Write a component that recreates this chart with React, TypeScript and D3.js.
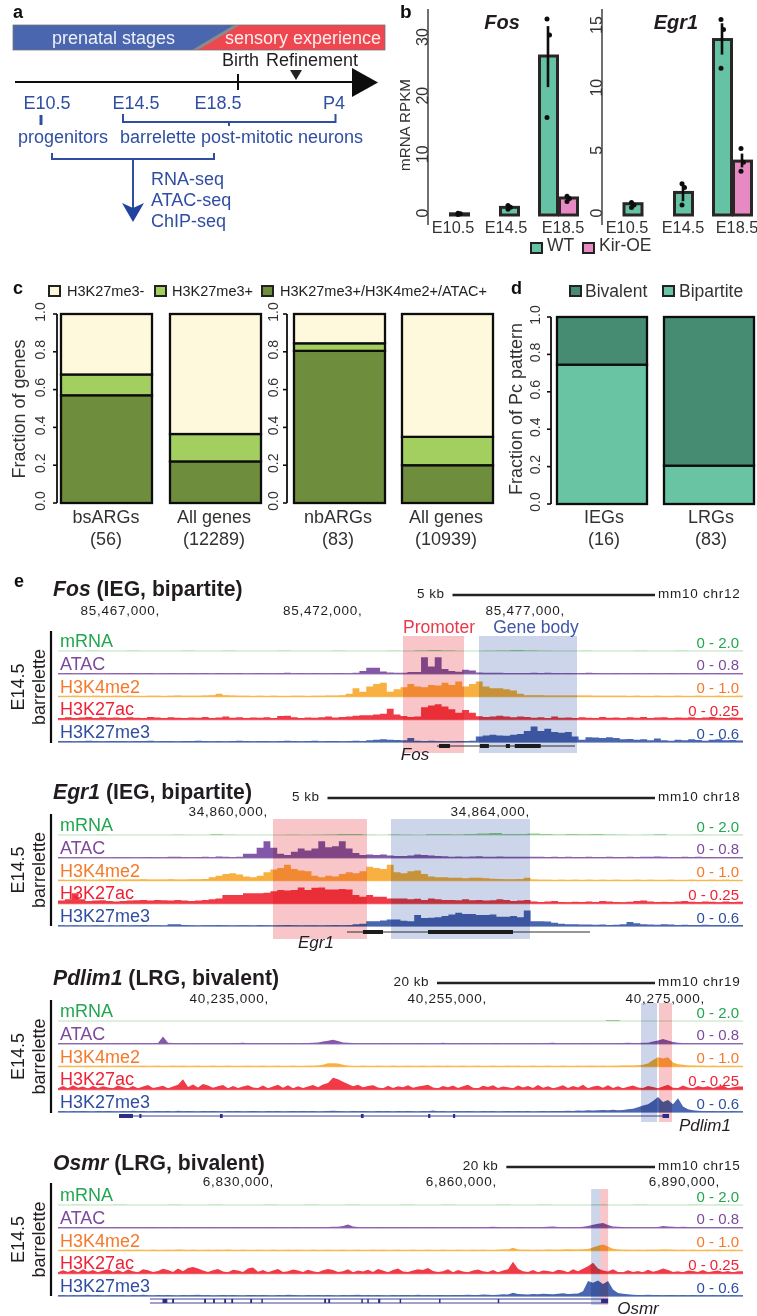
import React from "react";
import * as d3 from "d3";

const FONT = "'Liberation Sans', Arial, sans-serif";
const INK = "#231f20";
const BLUE_TEXT = "#2f4ea3";

// panel b
const stages = ["E10.5", "E14.5", "E18.5"];
const fosWt = [0.2, 1.3, 27.1];
const fosKir = [2.9];
const fosWtErr = [[0.1, 0.3], [1.0, 1.6], [21.8, 32.2]];
const fosKirErr = [[2.4, 3.2]];
const fosWtDots = [[0.1, 0.2, 0.3], [1.0, 1.3, 1.6], [16.6, 30.7, 33.4]];
const fosKirDots = [[2.3, 2.8, 3.2]];
const egrWt = [0.9, 1.8, 14.0];
const egrKir = [4.3];
const egrWtErr = [[0.6, 1.0], [1.1, 2.5], [12.8, 15.3]];
const egrKirErr = [[3.8, 4.9]];
const egrWtDots = [[0.6, 0.8, 1.0], [0.8, 2.2, 2.5], [11.7, 14.8, 15.6]];
const egrKirDots = [[3.5, 4.2, 5.3]];

// panel c
const cLegend = ["H3K27me3-", "H3K27me3+", "H3K27me3+/H3K4me2+/ATAC+"];
const cColors = ["#fef8dc", "#a2cf5e", "#6e8e3c"];
const cNamesLeft = ["bsARGs", "All genes"];
const cCountsLeft = ["(56)", "(12289)"];
const cTripleLeft = [0.57, 0.22];
const cPlusLeft = [0.68, 0.365];
const cNamesRight = ["nbARGs", "All genes"];
const cCountsRight = ["(83)", "(10939)"];
const cTripleRight = [0.805, 0.2];
const cPlusRight = [0.845, 0.35];
const fractionTicks = [0, 0.2, 0.4, 0.6, 0.8, 1];

// panel d
const dNames = ["IEGs", "LRGs"];
const dCounts = ["(16)", "(83)"];
const dBipartite = [0.745, 0.205];

// panel e
const trackNames = ["mRNA", "ATAC", "H3K4me2", "H3K27ac", "H3K27me3"];
const trackRanges = ["0 - 2.0", "0 - 0.8", "0 - 1.0", "0 - 0.25", "0 - 0.6"];
const trackText = ["#22a650", "#7d4a9e", "#f5792a", "#ee2435", "#2f4ea3"];
const trackFill = ["#8fce8f", "#8459a8", "#f8b040", "#f03a46", "#4a66b0"];
const baseWidth = [1.2, 1.3, 1.3, 2, 1.4];

const fosMrna = [0,0,1,0,0,1,0,0,0,1,0,0,1,0,0,0,1,0,0,0,1,0,0,0,1,0,2,5,2,0,0,1,2,5,2,1,0,0,1,0,0,0,1,0,0,1,0,0,0,1];
const fosAtac = [
  2,3,1,2,3,2,1,2,3,2, 3,2,2,3,1,2,3,2,2,3, 2,3,1,3,2,2,3,1,2,3, 2,2,3,4,2,3,2,3,2,2,
  3,3,2,4,12,27,27,10,6,4, 5,8,8,75,33,75,22,12,9,18, 15,6,5,4,4,3,3,3,3,4,
  3,4,3,2,3,2,3,4,3,2, 2,3,2,2,3,2,3,2,2,3, 2,3,2,2,3,2,3,2,2,2,
];
const fosK4 = [
  2,2,3,2,2,3,2,2,3,2, 3,2,2,3,3,2,3,4,3,3, 3,4,6,12,6,4,3,3,2,3, 2,3,2,2,3,3,2,3,3,4,
  5,6,12,38,22,45,57,63,22,33, 42,57,45,42,52,50,63,52,68,45, 57,68,45,38,38,33,27,12,6,6,
  6,5,5,5,5,4,4,4,3,3, 3,3,3,2,3,2,2,3,2,2, 3,2,2,3,2,2,3,2,2,3,
];
const fosAc = [
  6,9,6,8,10,6,9,7,8,6, 9,7,6,10,8,6,9,7,6,8, 7,10,6,8,12,7,9,6,8,7, 9,6,15,16,9,6,8,7,9,12,
  8,10,12,16,18,18,22,25,48,22, 15,10,12,55,62,68,58,45,30,42, 30,14,10,12,16,12,9,12,10,7,
  9,6,12,7,8,6,9,7,6,10, 7,8,6,9,7,10,6,8,9,6, 8,7,9,6,8,10,7,6,8,7,
];
const fosMe3 = [
  4,5,3,5,6,4,3,5,4,5, 3,5,4,6,3,5,4,3,5,4, 6,4,3,5,3,4,6,4,3,5, 4,3,5,6,4,3,4,6,3,4,
  5,3,4,6,5,8,10,12,10,9, 8,18,6,5,6,4,3,3,4,5, 6,25,30,33,30,28,33,36,50,70,
  50,60,45,42,45,25,10,22,20,18, 22,18,12,14,10,12,8,16,8,6, 10,8,12,9,6,10,12,8,9,7,
];

const egrMrna = [0,0,0,1,0,0,0,0,0,1,0,0,3,1,0,0,0,0,1,0,1,2,5,5,1,0,2,1,0,3,3,2,4,7,9,4,5,7,4,2,4,3,5,2,1,0,1,3,0,0,1,0,0,1];
const egrAtac = [
  2,1,2,2,1,2,1,1,2,2, 2,1,2,3,2,2,4,4,3,2, 3,4,2,6,5,3,4,18,18,45,
  75,45,18,12,27,42,33,42,75,48, 52,75,42,22,12,15,12,15,10,8,
  8,10,15,12,10,8,7,5,6,5, 6,7,5,4,6,5,4,5,4,5, 4,3,4,3,4,3,3,4,3,3,
  4,3,3,5,3,4,5,6,4,3, 3,4,3,4,3,3,2,3,3,2,
];
const egrK4 = [
  3,2,3,4,3,3,4,5,4,5, 4,5,6,5,5,5,6,5,5,6, 6,7,15,22,30,33,27,18,15,22,
  38,50,57,72,52,45,42,22,15,22, 18,30,38,33,42,63,57,52,72,38,
  33,42,45,30,18,15,15,12,12,10, 12,12,10,8,7,6,6,7,12,5,
  3,3,2,3,2,3,2,3,2,3, 2,3,2,2,3,2,3,2,2,3, 2,2,3,2,2,3,2,3,2,2,
];
const egrAc = [
  12,18,45,18,10,12,14,10,8,10, 12,14,15,12,15,14,12,15,12,10, 12,15,18,22,38,38,38,45,45,45,
  48,55,60,58,60,72,60,70,72,62, 62,65,62,38,30,38,30,30,22,22,
  22,18,20,15,22,18,15,15,14,18, 14,15,12,14,18,15,10,12,15,8,
  6,8,10,6,5,7,6,8,6,10, 8,6,5,7,10,12,8,6,7,6, 8,10,7,6,8,7,5,8,6,7,
];
const egrMe3 = [
  3,2,3,2,2,3,2,3,2,3, 2,3,4,3,3,2,8,8,4,3, 2,3,3,4,3,2,3,3,2,4, 3,2,3,4,3,2,3,3,2,3,
  4,3,5,8,10,22,22,25,30,30, 24,22,50,36,38,40,45,52,60,55, 55,50,50,52,42,42,45,40,70,22,
  22,20,15,10,8,8,7,7,6,7, 5,6,8,18,12,8,7,6,8,7, 5,6,4,5,6,4,5,4,5,4,
];

const pdlMrna = [0,0,0,0,0,0,0,0,0,0,0,0,0,0,0,0,0,0,0,0,0,0,0,0,0,0,0,0,0,0,0,0,0,0,0,0,0,0,0,0,5,0,0,0,0,0,0,0,0,0];
const pdlAtac = [
  2,3,2,2,3,2,3,2,2,3, 2,3,3,2,2,3,2,3,3,2, 3,33,5,3,2,3,2,3,3,2, 2,3,2,3,2,3,3,4,2,3,
  2,3,2,2,3,2,3,3,2,3, 3,4,6,10,14,18,12,6,4,3, 2,3,2,3,2,3,3,2,3,2, 3,2,3,3,2,3,2,4,2,3,
  2,3,3,2,3,2,2,3,3,2, 3,2,3,2,3,3,2,2,3,4, 2,3,2,3,2,3,3,2,3,2, 3,2,3,3,4,3,3,4,5,10,
  15,22,15,8,4,3,3,2,3,2, 3,2,3,2,3,2,2,
];
const pdlK4 = [
  2,2,3,2,2,2,3,2,2,3, 2,2,3,2,3,2,2,3,2,2, 3,2,2,3,2,3,2,2,3,2, 2,3,2,2,3,2,2,2,3,2,
  2,3,2,2,3,2,2,3,2,2, 3,3,4,8,15,15,14,8,3,2, 2,3,2,2,3,2,2,3,2,2, 3,2,2,3,2,2,3,2,3,2,
  2,3,2,2,3,2,2,3,2,2, 3,2,3,2,2,3,2,2,3,2, 2,3,2,2,3,2,3,3,2,3, 2,3,3,4,4,5,6,8,14,30,
  42,36,42,18,10,8,5,4,3,3, 2,3,2,2,3,2,2,
];
const pdlAc = [
  5,15,4,18,7,13,3,16,6,14, 8,4,17,9,5,15,4,12,19,6, 10,16,5,13,20,45,10,22,8,24, 17,7,14,19,5,15,6,12,18,8,
  6,17,4,13,20,7,18,5,14,6, 12,19,9,22,28,52,45,34,24,14, 20,9,15,18,8,5,16,6,14,9, 18,7,13,16,20,8,5,15,9,17,
  6,14,20,7,5,16,10,18,6,13, 9,5,17,8,15,6,19,7,14,5, 10,18,6,15,8,20,5,12,16,7, 18,6,14,5,11,17,8,6,15,10,
  5,13,20,7,6,17,8,5,15,9, 14,6,12,18,5,9,13,
];
const pdlMe3 = [
  3,4,2,5,3,4,3,2,4,3, 5,3,2,4,3,6,3,4,2,3, 5,3,4,2,6,3,4,3,2,5, 3,4,3,2,4,3,5,2,3,4,
  3,2,5,3,4,2,3,4,3,5, 3,4,2,3,5,6,4,3,2,4, 3,5,3,2,4,3,4,2,5,3, 4,3,2,4,3,7,3,4,2,3,
  5,3,4,3,2,4,3,5,2,3, 4,3,5,3,4,2,3,4,3,5, 5,4,6,5,7,6,8,7,8,9, 8,10,8,9,12,15,22,30,35,50,
  68,45,55,35,63,25,12,8,6,5, 4,5,3,4,3,4,3,
];

const osmMrna = [0,1,0,0,1,0,0,0,1,0,0,1,0,0,0,1,0,0,1,0,0,1,0,0,0,1,0,0,1,0,0,0,1,0,0,1,0,0,0,1,0,0,1,0,0,0,1,0,1,0];
const osmAtac = [
  3,2,3,2,3,3,2,3,2,3, 2,3,3,2,3,2,3,2,3,3, 2,3,2,3,3,2,3,2,3,2, 3,3,2,3,2,3,3,2,3,2,
  3,2,3,3,2,3,2,3,3,2, 3,2,3,2,3,4,5,8,15,6, 3,2,3,2,3,3,2,3,2,3, 3,2,3,2,3,3,2,3,2,3,
  2,3,3,2,3,2,3,4,3,2, 3,2,3,3,2,3,2,3,5,6, 3,2,3,3,2,4,8,14,18,22, 12,6,4,3,3,2,3,2,3,2,
  3,8,6,4,3,4,3,3,2,3, 2,3,3,2,3,2,2,
];
const osmK4 = [
  2,2,3,2,2,3,2,2,3,2, 2,3,2,2,3,2,3,2,2,3, 2,2,3,2,4,3,2,3,2,2, 3,2,3,2,4,2,2,3,2,2,
  3,2,2,3,2,2,3,2,3,2, 2,3,2,2,3,2,2,3,2,2, 3,2,2,3,2,3,2,2,3,2, 2,3,2,2,3,2,2,3,2,2,
  3,2,2,3,2,3,2,2,3,4, 5,12,4,3,3,2,3,2,4,3, 3,5,6,4,5,6,7,14,22,27, 18,8,4,3,3,2,3,2,3,3,
  3,5,4,3,2,3,2,3,2,2, 3,2,3,2,2,3,2,
];
const osmAc = [
  5,14,6,16,4,18,7,15,5,13, 19,6,15,4,17,9,5,18,14,6, 10,20,15,6,22,9,24,28,22,12, 6,14,19,8,5,16,13,6,22,26,
  7,15,5,12,19,6,9,17,13,6, 16,9,4,14,19,15,6,9,18,5, 13,8,16,6,19,12,5,15,22,8, 6,13,18,15,24,10,6,9,18,5,
  15,8,4,12,17,9,6,15,5,13, 18,52,20,9,6,15,5,13,10,6, 16,12,5,18,9,20,32,48,22,13, 8,18,6,5,14,6,10,5,16,7,
  12,22,15,6,9,5,13,10,6,15, 5,9,13,6,10,5,9,
];
const osmMe3 = [
  3,4,2,5,3,4,6,3,4,2, 3,5,3,4,2,4,3,6,3,2, 5,3,4,3,2,5,3,4,6,3, 4,2,3,5,3,4,3,2,4,5,
  3,4,3,2,5,3,6,4,3,2, 4,3,5,3,4,3,2,5,3,4, 6,3,4,3,5,3,2,4,3,5, 4,3,6,3,4,3,5,4,3,4,
  5,4,6,5,5,7,6,5,6,8, 7,15,9,8,7,9,8,10,9,8, 10,12,9,10,11,22,68,60,70,55, 68,30,14,10,8,6,5,4,6,4,
  5,3,4,5,3,4,3,4,3,4, 3,4,3,4,3,4,3,
];

type GenePanel = {
  title: string; rest: string; kb: string; chrom: string;
  ticks: number[]; tickPx: number[]; barKb: number; titleY: number; barY: number; tickY: number;
  firstBase: number; lineTop: number; lineBottom: number;
  promoter: number[]; body: number[]; shadeTop: number; shadeBottom: number;
  gene: number[]; exons: number[][]; geneY: number; geneColor: string; geneX: number; geneLabelY: number;
  tracks: number[][];
};

const fosTicks = [85467000, 85472000, 85477000];
const egrTicks = [34860000, 34864000];
const pdlTicks = [40235000, 40255000, 40275000];
const osmTicks = [6830000, 6860000, 6890000];

const fosExons = [[85473890, 85474160], [85474900, 85475120], [85475540, 85475640], [85475760, 85476400]];
const egrExons = [[34861450, 34861756], [34862443, 34863740]];
const pdlExons = [[40221240, 40222520], [40223100, 40223300], [40230500, 40230750], [40243430, 40243680], [40249600, 40249800], [40251880, 40252080], [40271100, 40271700]];
const osmExons = [[6815000, 6815650], [6816300, 6816550], [6820600, 6820850], [6821800, 6822050], [6823300, 6823550], [6824250, 6824500], [6826800, 6827050], [6828300, 6828500],
  [6836750, 6837000], [6837300, 6837550], [6841750, 6841950], [6842550, 6842750], [6844000, 6844300], [6846900, 6847100], [6852200, 6852400], [6860100, 6860300], [6874000, 6874950]];

const genePanels: GenePanel[] = [
  { title: "Fos", rest: " (IEG, bipartite)", kb: "5 kb", chrom: "mm10 chr12", ticks: fosTicks, tickPx: [160, 565], barKb: 5000,
    titleY: 588, barY: 595, tickY: 609, firstBase: 651, lineTop: 631, lineBottom: 743,
    promoter: [85473000, 85474506], body: [85474876, 85477296], shadeTop: 636, shadeBottom: 753,
    gene: [85473840, 85477247], exons: fosExons, geneY: 746, geneColor: "#1a1a1a", geneX: 415, geneLabelY: 754,
    tracks: [fosMrna, fosAtac, fosK4, fosAc, fosMe3] },
  { title: "Egr1", rest: " (IEG, bipartite)", kb: "5 kb", chrom: "mm10 chr18", ticks: egrTicks, tickPx: [268, 530], barKb: 5000,
    titleY: 791, barY: 798, tickY: 810, firstBase: 835, lineTop: 814, lineBottom: 926,
    promoter: [34860076, 34861511], body: [34861878, 34864000], shadeTop: 819, shadeBottom: 939,
    gene: [34861206, 34864916], exons: egrExons, geneY: 932, geneColor: "#1a1a1a", geneX: 316, geneLabelY: 942,
    tracks: [egrMrna, egrAtac, egrK4, egrAc, egrMe3] },
  { title: "Pdlim1", rest: " (LRG, bivalent)", kb: "20 kb", chrom: "mm10 chr19", ticks: pdlTicks, tickPx: [269, 705], barKb: 20000,
    titleY: 977, barY: 983, tickY: 997, firstBase: 1021, lineTop: 1000, lineBottom: 1113,
    promoter: [40270780, 40271970], body: [40269130, 40270600], shadeTop: 1003, shadeBottom: 1122,
    gene: [40221240, 40271700], exons: pdlExons, geneY: 1116, geneColor: "#2b2f8a", geneX: 705, geneLabelY: 1125,
    tracks: [pdlMrna, pdlAtac, pdlK4, pdlAc, pdlMe3] },
  { title: "Osmr", rest: " (LRG, bivalent)", kb: "20 kb", chrom: "mm10 chr15", ticks: osmTicks, tickPx: [274, 720], barKb: 20000,
    titleY: 1162, barY: 1167, tickY: 1180, firstBase: 1205, lineTop: 1183, lineBottom: 1296,
    promoter: [6873880, 6874950], body: [6872660, 6873880], shadeTop: 1189, shadeBottom: 1305,
    gene: [6813310, 6874950], exons: osmExons, geneY: 1301, geneColor: "#2b2f8a", geneX: 638, geneLabelY: 1308,
    tracks: [osmMrna, osmAtac, osmK4, osmAc, osmMe3] },
];

const Label = ({ x, y, children, size = 18, fill = INK, anchor = "start", weight = "normal", italic = false, rotate = false, spacing = 0 }: any) => (
  <text
    x={rotate ? 0 : x}
    y={rotate ? 0 : y}
    transform={rotate ? `translate(${x},${y}) rotate(-90)` : undefined}
    fontSize={size}
    fill={fill}
    textAnchor={anchor}
    fontWeight={weight}
    fontStyle={italic ? "italic" : "normal"}
    letterSpacing={spacing}
    dominantBaseline="central"
    fontFamily={FONT}
  >
    {children}
  </text>
);

const Timeline = () => (
  <g>
    <rect x={13} y={25} width={372} height={25} fill="#4a66ae" />
    <path d="M238,25 L385,25 L385,50 L196,50 Z" fill="#ef4750" />
    <path d="M192,50 L234,25 L240,25 L198,50 Z" fill="#8a8a8a" />
    <rect x={13} y={25} width={372} height={25} fill="none" stroke="#777" strokeWidth={0.8} />
    <Label x={52} y={37.5} fill="#eef1f8">prenatal stages</Label>
    <Label x={225} y={37.5} fill="#fdeeee">sensory experience</Label>
    <Label x={222} y={60}>Birth</Label>
    <Label x={266} y={60}>Refinement</Label>
    <line x1={15} x2={354} y1={82} y2={82} stroke="#111" strokeWidth={2.2} />
    <path d="M352,68 L378,82.5 L352,97 Z" fill="#111" />
    <line x1={238} x2={238} y1={74} y2={90} stroke="#111" strokeWidth={2} />
    <path d="M290,70 L302,70 L296,80 Z" fill="#222" />
    <Label x={47} y={103} fill={BLUE_TEXT} anchor="middle">E10.5</Label>
    <Label x={136} y={103} fill={BLUE_TEXT} anchor="middle">E14.5</Label>
    <Label x={218} y={103} fill={BLUE_TEXT} anchor="middle">E18.5</Label>
    <Label x={334} y={103} fill={BLUE_TEXT} anchor="middle">P4</Label>
    <g stroke="#2f4ea3" strokeWidth={2} fill="none">
      <line x1={41} x2={41} y1={115} y2={125} strokeWidth={3} />
      <path d="M123,114 V122 H335.5 V114" />
      <line x1={229} x2={229} y1={122} y2={126} />
      <path d="M52,153 V159 H214 V153" />
      <line x1={133} x2={133} y1={159} y2={210} />
    </g>
    <path d="M122,203 L133,208 L144,203 L133,222 Z" fill="#2343a0" />
    <Label x={63} y={137} fill={BLUE_TEXT} anchor="middle">progenitors</Label>
    <Label x={120} y={137} fill={BLUE_TEXT}>barrelette post-mitotic neurons</Label>
    <Label x={151} y={179} fill={BLUE_TEXT}>RNA-seq</Label>
    <Label x={151} y={200} fill={BLUE_TEXT}>ATAC-seq</Label>
    <Label x={151} y={221} fill={BLUE_TEXT}>ChIP-seq</Label>
  </g>
);

const BarChart = ({ title, titleX, axisX, ticks, yTop, barCenters, labelCenters, wt, kir, wtErr, kirErr, wtDots, kirDots, maxTick }: any) => {
  const y = d3.scaleLinear().domain([0, maxTick]).range([215, yTop]);
  const barW = 18;
  const kirX = barCenters[2] + 20;
  const bar = (cx: number, v: number, fill: string) => (
    <rect x={cx - barW / 2} y={y(v)} width={barW} height={y(0) - y(v)} fill={fill} stroke="#2a2627" strokeWidth={3} />
  );
  const err = (cx: number, e: number[]) => (
    <line x1={cx} x2={cx} y1={y(e[0])} y2={y(e[1])} stroke="#111" strokeWidth={2.6} />
  );
  const dots = (cx: number, vals: number[]) =>
    vals.map((v, i) => <circle key={i} cx={cx + (i % 2 ? 1.5 : -1)} cy={y(v)} r={2.5} fill="#111" />);
  return (
    <g>
      <line x1={axisX} x2={axisX} y1={9} y2={225} stroke="#333" strokeWidth={1.4} />
      {ticks.map((t: number) => (
        <Label key={t} x={axisX - 6} y={y(t) - 2} size={16} fill="#333" anchor="middle" rotate>{t}</Label>
      ))}
      <Label x={titleX} y={22} size={20} weight="bold" italic anchor="middle">{title}</Label>
      {wt.map((v: number, i: number) => (
        <g key={i}>
          {bar(barCenters[i], v, "#66c2a5")}
          {err(barCenters[i] - 0.5, wtErr[i])}
          {dots(barCenters[i] - 0.5, wtDots[i])}
        </g>
      ))}
      {bar(kirX, kir[0], "#e78ac3")}
      {err(kirX - 0.5, kirErr[0])}
      {dots(kirX - 0.5, kirDots[0])}
      {stages.map((s, i) => (
        <Label key={s} x={labelCenters[i]} y={227} size={16.3} fill="#333" anchor="middle">{s}</Label>
      ))}
    </g>
  );
};

const FractionAxis = ({ axisX, y, labelX }: any) => (
  <g>
    <line x1={axisX} x2={axisX} y1={y(1)} y2={y(0)} stroke="#111" strokeWidth={1.8} />
    {fractionTicks.map((t) => (
      <g key={t}>
        <line x1={axisX - 4} x2={axisX} y1={y(t)} y2={y(t)} stroke="#111" strokeWidth={1.6} />
        <Label x={labelX} y={y(t) - 2} size={14} fill="#333" anchor="middle" rotate>{t.toFixed(1)}</Label>
      </g>
    ))}
  </g>
);

const StackBar = ({ x, width, y, breaks, colors }: any) => {
  const edges = [0, ...breaks, 1];
  return (
    <g>
      {colors.map((c: string, i: number) => (
        <rect key={i} x={x} width={width} y={y(edges[i + 1])} height={y(edges[i]) - y(edges[i + 1])} fill={c} stroke="#111" strokeWidth={2.3} />
      ))}
    </g>
  );
};

const FractionGroup = ({ names, counts, triple, plus, barX, width, centers, axisX, labelX, y }: any) => (
  <g>
    <FractionAxis axisX={axisX} y={y} labelX={labelX} />
    {names.map((n: string, i: number) => (
      <g key={i}>
        <StackBar x={barX[i]} width={width} y={y} breaks={[triple[i], plus[i]]} colors={[cColors[2], cColors[1], cColors[0]]} />
        <Label x={centers[i]} y={517} anchor="middle" fill="#333">{n}</Label>
        <Label x={centers[i]} y={539} anchor="middle" fill="#333">{counts[i]}</Label>
      </g>
    ))}
  </g>
);

const Swatch = ({ x, y, fill }: any) => (
  <rect x={x} y={y} width={11} height={10} fill={fill} stroke="#222" strokeWidth={2} />
);

const Tracks = ({ panel }: { panel: GenePanel }) => {
  const genome = d3
    .scaleLinear()
    .domain([panel.ticks[0], panel.ticks[panel.ticks.length - 1]])
    .range(panel.tickPx);
  const base = d3
    .scalePoint<string>()
    .domain(trackNames)
    .range([panel.firstBase, panel.firstBase + 91]);
  const barEnd = 655;
  const barStart = barEnd - (genome(panel.barKb + panel.ticks[0]) - genome(panel.ticks[0]));
  const shade = (span: number[], fill: string) => (
    <rect
      x={genome(span[0])}
      width={genome(span[1]) - genome(span[0])}
      y={panel.shadeTop}
      height={panel.shadeBottom - panel.shadeTop}
      fill={fill}
      style={{ mixBlendMode: "multiply" }}
    />
  );
  return (
    <g>
      <text x={53} y={panel.titleY} fontSize={21.2} fontWeight="bold" fill={INK} dominantBaseline="central" fontFamily={FONT}>
        <tspan fontStyle="italic">{panel.title}</tspan>
        {panel.rest}
      </text>
      <line x1={barStart} x2={barEnd} y1={panel.barY} y2={panel.barY} stroke="#222" strokeWidth={2.6} />
      <Label x={barStart - 8} y={panel.barY - 1.5} size={13.5} spacing={0.5} anchor="end">{panel.kb}</Label>
      <Label x={658} y={panel.barY - 1.5} size={13.5} spacing={0.75}>{panel.chrom}</Label>
      {panel.ticks.map((t) => (
        <Label key={t} x={genome(t)} y={panel.tickY + 1.5} size={13.5} spacing={0.75} anchor="end">{d3.format(",")(t)},</Label>
      ))}
      <line x1={51} x2={51} y1={panel.lineTop} y2={panel.lineBottom} stroke="#111" strokeWidth={2.2} />
      <Label x={18} y={(panel.lineTop + panel.lineBottom) / 2} anchor="middle" rotate>E14.5</Label>
      <Label x={39} y={(panel.lineTop + panel.lineBottom) / 2} anchor="middle" rotate>barrelette</Label>
      {panel.tracks.map((values, k) => {
        const b = base(trackNames[k]) as number;
        const x = d3.scaleLinear().domain([0, values.length]).range([58, 743]);
        const y = d3.scaleLinear().domain([0, 100]).range([b, b - 22]);
        // long tracks are the wide genome views, where peaks look spiky rather than blocky
        const area = d3
          .area<number>()
          .x((_, i) => x(i))
          .y0(b)
          .y1((d) => y(d))
          .curve(values.length > 120 ? d3.curveLinear : d3.curveStepAfter);
        return (
          <g key={k}>
            <path d={area([...values, values[values.length - 1]]) as string} fill={trackFill[k]} />
            <line x1={58} x2={743} y1={b} y2={b} stroke={trackFill[k]} strokeWidth={baseWidth[k]} strokeOpacity={k === 0 ? 0.6 : 0.8} />
            <Label x={60} y={b - 10} size={18} fill={trackText[k]}>{trackNames[k]}</Label>
            <Label x={739} y={b - 9} size={15} fill={trackText[k]} anchor="end">{trackRanges[k]}</Label>
          </g>
        );
      })}
      {shade(panel.promoter, "#f8c6c9")}
      {shade(panel.body, "#ccd5e9")}
      <g stroke={panel.geneColor}>
        {panel.title === "Osmr" ? (
          <g>
            <line x1={genome(panel.gene[0])} x2={genome(panel.gene[1])} y1={panel.geneY - 2} y2={panel.geneY - 2} strokeWidth={0.9} />
            <line x1={genome(panel.gene[0])} x2={genome(panel.gene[1])} y1={panel.geneY + 2} y2={panel.geneY + 2} strokeWidth={0.9} />
          </g>
        ) : (
          <line x1={genome(panel.gene[0])} x2={genome(panel.gene[1])} y1={panel.geneY} y2={panel.geneY} strokeWidth={0.9} />
        )}
        {panel.exons.map((e, i) => (
          <rect
            key={i}
            x={genome(e[0])}
            width={Math.max(1, genome(e[1]) - genome(e[0]))}
            y={panel.geneY - 2}
            height={4}
            fill={panel.geneColor}
            stroke="none"
          />
        ))}
      </g>
      <Label x={panel.geneX} y={panel.geneLabelY} size={17} italic anchor="middle">{panel.title}</Label>
    </g>
  );
};

export default function App() {
  const yC = d3.scaleLinear().domain([0, 1]).range([503, 314]);
  const yD = d3.scaleLinear().domain([0, 1]).range([504, 317]);
  return (
    <svg width={757} height={1316} style={{ position: "absolute", left: 0, top: 0 }}>
      <defs>
        <filter id="soft" x="0" y="0" width="100%" height="100%">
          <feGaussianBlur stdDeviation="0.35" />
        </filter>
      </defs>
      <rect width={757} height={1316} fill="#fff" />
      <g filter="url(#soft)">
        <Label x={13} y={12} size={18} weight="bold" fill="#111">a</Label>
        <Timeline />

        <Label x={400} y={11} size={19} weight="bold" fill="#111">b</Label>
        <Label x={404} y={125} size={15.2} fill="#333" anchor="middle" rotate>mRNA RPKM</Label>
        <BarChart title="Fos" titleX={502} axisX={428} maxTick={30} yTop={39} ticks={[0, 10, 20, 30]}
          barCenters={[459.5, 509.5, 548.5]} labelCenters={[453, 506, 563]}
          wt={fosWt} kir={fosKir} wtErr={fosWtErr} kirErr={fosKirErr} wtDots={fosWtDots} kirDots={fosKirDots} />
        <BarChart title="Egr1" titleX={676} axisX={602} maxTick={15} yTop={27} ticks={[0, 5, 10, 15]}
          barCenters={[633, 683.5, 722.5]} labelCenters={[627, 683, 737]}
          wt={egrWt} kir={egrKir} wtErr={egrWtErr} kirErr={egrKirErr} wtDots={egrWtDots} kirDots={egrKirDots} />
        <Swatch x={531} y={243} fill="#66c2a5" />
        <Label x={547} y={245} size={17.5} fill="#333">WT</Label>
        <Swatch x={583} y={243} fill="#e78ac3" />
        <Label x={599} y={245} size={17.5} fill="#333">Kir-OE</Label>

        <Label x={13} y={288} size={18} weight="bold" fill="#111">c</Label>
        <Swatch x={49} y={286} fill={cColors[0]} />
        <Label x={67} y={291} size={14.5} fill="#222">{cLegend[0]}</Label>
        <Swatch x={155} y={286} fill={cColors[1]} />
        <Label x={172} y={291} size={14.5} fill="#222">{cLegend[1]}</Label>
        <Swatch x={262} y={286} fill={cColors[2]} />
        <Label x={280} y={291} size={14.5} fill="#222">{cLegend[2]}</Label>
        <Label x={19} y={409} anchor="middle" fill="#333" rotate>Fraction of genes</Label>
        <FractionGroup names={cNamesLeft} counts={cCountsLeft} triple={cTripleLeft} plus={cPlusLeft}
          barX={[61, 170]} width={91} centers={[106, 214]} axisX={57} labelX={40} y={yC} />
        <FractionGroup names={cNamesRight} counts={cCountsRight} triple={cTripleRight} plus={cPlusRight}
          barX={[294, 402]} width={91} centers={[338, 446]} axisX={287} labelX={273} y={yC} />

        <Label x={511} y={288} size={18} weight="bold" fill="#111">d</Label>
        <Swatch x={570} y={286} fill="#458c72" />
        <Label x={585} y={291} size={17.5} fill="#333">Bivalent</Label>
        <Swatch x={663} y={286} fill="#69c4a4" />
        <Label x={679} y={291} size={17.5} fill="#333">Bipartite</Label>
        <Label x={516} y={409} anchor="middle" fill="#333" rotate>Fraction of Pc pattern</Label>
        <FractionAxis axisX={551} y={yD} labelX={535} />
        {dNames.map((n, i) => (
          <g key={n}>
            <StackBar x={[557, 664][i]} width={90} y={yD} breaks={[dBipartite[i]]} colors={["#69c4a4", "#458c72"]} />
            <Label x={[604, 711][i]} y={517} anchor="middle" fill="#333">{n}</Label>
            <Label x={[604, 711][i]} y={539} anchor="middle" fill="#333">{dCounts[i]}</Label>
          </g>
        ))}

        <Label x={14} y={581} size={18} weight="bold" fill="#111">e</Label>
        <Label x={439} y={627} size={17.5} fill="#e8394a" anchor="middle">Promoter</Label>
        <Label x={536} y={627} size={17.5} fill="#3f57a6" anchor="middle">Gene body</Label>
        {genePanels.map((p) => (
          <Tracks key={p.title} panel={p} />
        ))}
      </g>
    </svg>
  );
}
